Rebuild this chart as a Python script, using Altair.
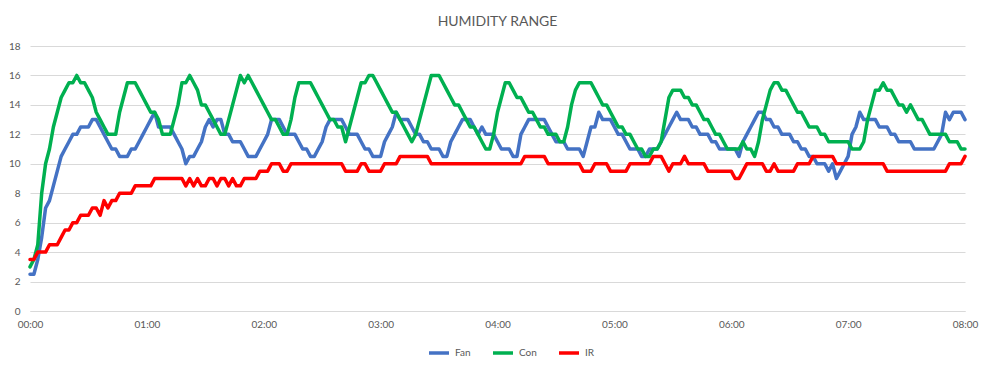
import altair as alt
import pandas as pd

# Readings every 2 minutes from 00:00 to 08:00 (241 per series)
STEP_MIN = 2

FAN = [
    2.5, 2.5, 3.5, 5, 7, 7.5, 8.5, 9.5, 10.5, 11, 11.5, 12, 12, 12.5, 12.5,
    12.5, 13, 13, 12.5, 12, 11.5, 11, 11, 10.5, 10.5, 10.5, 11, 11, 11.5, 12,
    12.5, 13, 13.5, 12.5, 12.5, 12.5, 12.5, 12, 11.5, 11, 10, 10.5, 10.5, 11, 11.5,
    12.5, 13, 12.5, 13, 13, 12, 12, 11.5, 11.5, 11.5, 11, 10.5, 10.5, 10.5, 11,
    11.5, 12, 13, 13, 13, 12.5, 12, 12, 12, 11.5, 11, 11, 10.5, 10.5, 11,
    11.5, 12.5, 13, 13, 13, 13, 12.5, 12, 12, 12, 11.5, 11, 11, 10.5, 10.5,
    10.5, 11.5, 12, 12.5, 13.5, 13, 13, 13, 12.5, 12, 12, 11.5, 11.5, 11, 11,
    11, 10.5, 10.5, 11.5, 12, 12.5, 13, 13, 13, 12.5, 12, 12.5, 12, 12, 12,
    11.5, 11, 11, 11, 10.5, 10.5, 12, 12.5, 13, 13, 13, 13, 13, 12.5, 12,
    11.5, 11.5, 11.5, 11, 11, 11, 11, 10.5, 11.5, 12.5, 12.5, 13.5, 13, 13, 13,
    12.5, 12, 12, 11.5, 11, 11, 11, 10.5, 10.5, 11, 11, 11, 11.5, 12, 12.5,
    13, 13.5, 13, 13, 13, 12.5, 12.5, 12, 12, 12, 11.5, 11.5, 11, 11, 11,
    11, 11, 10.5, 11.5, 12, 12.5, 13, 13.5, 13.5, 13, 13, 12.5, 12.5, 12, 12,
    12, 11.5, 11.5, 11, 11, 10.5, 10.5, 10, 10, 10, 9.5, 10, 9, 9.5, 10,
    10.5, 12, 12.5, 13.5, 13, 13, 13, 13, 12.5, 12.5, 12.5, 12, 12, 11.5, 11.5,
    11.5, 11.5, 11, 11, 11, 11, 11, 11, 11.5, 12, 13.5, 13, 13.5, 13.5, 13.5,
    13,
]

CON = [
    3, 3.5, 4.5, 8, 10, 11, 12.5, 13.5, 14.5, 15, 15.5, 15.5, 16, 15.5, 15.5,
    15, 14.5, 13.5, 13, 12.5, 12, 12, 12, 13.5, 14.5, 15.5, 15.5, 15.5, 15, 14.5,
    14, 13.5, 13.5, 13, 12, 12, 12, 13, 14, 15.5, 15.5, 16, 15.5, 15, 14,
    14, 13.5, 13, 12.5, 12, 12, 13, 14, 15, 16, 15.5, 16, 15.5, 15, 14.5,
    14, 13.5, 13, 13, 12.5, 12, 12, 13, 14.5, 15.5, 15.5, 15.5, 15.5, 15, 14.5,
    14, 13.5, 13, 13, 12.5, 12.5, 11.5, 12.5, 13.5, 14.5, 15.5, 15.5, 16, 16, 15.5,
    15, 14.5, 14, 13.5, 13.5, 13, 12.5, 12, 11.5, 12, 13, 14, 15, 16, 16,
    16, 15.5, 15, 14.5, 14, 14, 13.5, 13, 12.5, 12.5, 12, 11.5, 11, 11, 12,
    13.5, 14.5, 15.5, 15.5, 15, 14.5, 14.5, 14, 13.5, 13.5, 13, 12.5, 12.5, 12, 12,
    12, 11.5, 11.5, 12.5, 14, 15, 15.5, 15.5, 15.5, 15.5, 15, 14.5, 14, 14, 13.5,
    13, 12.5, 12.5, 12, 12, 11.5, 11, 11, 10.5, 10.5, 11, 11, 11.5, 13, 14.5,
    15, 15, 15, 14.5, 14.5, 14, 14, 13.5, 13, 13, 12.5, 12, 12, 11.5, 11,
    11, 11, 11, 11.5, 11, 11, 10.5, 11.5, 13, 14, 15, 15.5, 15.5, 15, 15,
    14.5, 14, 13.5, 13.5, 13, 12.5, 12.5, 12.5, 12, 12, 11.5, 11.5, 11.5, 11.5, 11.5,
    11.5, 11, 11, 11, 11.5, 13, 14, 15, 15, 15.5, 15, 15, 14.5, 14, 14,
    13.5, 14, 13.5, 13, 13, 12.5, 12, 12, 12, 12, 12, 11.5, 11.5, 11.5, 11,
    11,
]

IR = [
    3.5, 3.5, 4, 4, 4, 4.5, 4.5, 4.5, 5, 5.5, 5.5, 6, 6, 6.5, 6.5,
    6.5, 7, 7, 6.5, 7.5, 7, 7.5, 7.5, 8, 8, 8, 8, 8.5, 8.5, 8.5,
    8.5, 8.5, 9, 9, 9, 9, 9, 9, 9, 9, 8.5, 9, 8.5, 9, 8.5,
    8.5, 9, 9, 8.5, 9, 9, 8.5, 9, 8.5, 8.5, 9, 9, 9, 9, 9.5,
    9.5, 9.5, 10, 10, 10, 9.5, 9.5, 10, 10, 10, 10, 10, 10, 10, 10,
    10, 10, 10, 10, 10, 10, 9.5, 9.5, 9.5, 9.5, 10, 10, 9.5, 9.5, 9.5,
    9.5, 10, 10, 10, 10, 10.5, 10.5, 10.5, 10.5, 10.5, 10.5, 10.5, 10.5, 10, 10,
    10, 10, 10, 10, 10, 10, 10, 10, 10, 10, 10, 10, 10, 10, 10,
    10, 10, 10, 10, 10, 10, 10, 10.5, 10.5, 10.5, 10.5, 10.5, 10.5, 10, 10,
    10, 10, 10, 10, 10, 10, 10, 9.5, 9.5, 9.5, 10, 10, 10, 10, 9.5,
    9.5, 9.5, 9.5, 9.5, 10, 10, 10, 10, 10, 10, 10.5, 10.5, 10.5, 10, 9.5,
    10, 10, 10, 10.5, 10, 10, 10, 10, 10, 9.5, 9.5, 9.5, 9.5, 9.5, 9.5,
    9.5, 9, 9, 9.5, 10, 10, 10, 10, 10, 9.5, 9.5, 10, 9.5, 9.5, 9.5,
    9.5, 9.5, 10, 10, 10, 10, 10.5, 10.5, 10.5, 10.5, 10.5, 10.5, 10, 10, 10,
    10, 10, 10, 10, 10, 10, 10, 10, 10, 10, 9.5, 9.5, 9.5, 9.5, 9.5,
    9.5, 9.5, 9.5, 9.5, 9.5, 9.5, 9.5, 9.5, 9.5, 9.5, 9.5, 10, 10, 10, 10,
    10.5,
]

SERIES = ["Fan", "Con", "IR"]
COLORS = ["#4472C4", "#00B050", "#FF0000"]
X_TICKS = [0, 60, 120, 180, 240, 300, 360, 420, 480]
X_LABELS = ["00:00", "01:00", "02:00", "03:00", "04:00", "05:00", "06:00", "07:00", "08:00"]
Y_TICKS = [0, 2, 4, 6, 8, 10, 12, 14, 16, 18]
TITLE = "HUMIDITY RANGE"

FONT = "Lato"
TEXT_COLOR = "#595959"
GRID_COLOR = "#d9d9d9"

rows = []
for name, vals in zip(SERIES, [FAN, CON, IR]):
    for i, v in enumerate(vals):
        rows.append({"minute": i * STEP_MIN, "value": v, "series": name})
df = pd.DataFrame(rows)

label_expr = "[" + ",".join("'" + s + "'" for s in X_LABELS) + "][round(datum.value / 60)]"

x_enc = alt.X(
    "minute:Q",
    scale=alt.Scale(domain=[0, 480], nice=False, zero=False),
    axis=alt.Axis(
        values=X_TICKS, labelExpr=label_expr, title=None, grid=False, ticks=False,
        domain=True, domainColor=GRID_COLOR, domainWidth=1, labelPadding=8,
        labelFlush=False, labelColor=TEXT_COLOR, labelFontSize=10, labelFont=FONT,
    ),
)
y_enc = alt.Y(
    "value:Q",
    scale=alt.Scale(domain=[0, 18], nice=False),
    axis=alt.Axis(
        values=Y_TICKS, title=None, grid=True, gridColor=GRID_COLOR, gridWidth=1,
        ticks=False, domain=False, labelPadding=10, labelColor=TEXT_COLOR,
        labelFontSize=10, labelFont=FONT,
    ),
)
color_enc = alt.Color(
    "series:N",
    scale=alt.Scale(domain=SERIES, range=COLORS),
    legend=alt.Legend(
        title=None, orient="none", legendX=397, legendY=295, direction="horizontal",
        symbolType="stroke", symbolStrokeWidth=3.5, symbolSize=400,
        labelFontSize=10, labelColor=TEXT_COLOR, labelFont=FONT,
        columnPadding=15, labelOffset=4,
    ),
)

base = alt.Chart(df).mark_line(strokeWidth=3.5, strokeJoin="round", strokeCap="round")

layers = [
    base.transform_filter(alt.datum.series == s).encode(x=x_enc, y=y_enc, color=color_enc)
    for s in SERIES
]

chart = alt.layer(*layers).properties(
    width=935,
    height=265,
    title=alt.TitleParams(
        TITLE, fontSize=14, font=FONT, color=TEXT_COLOR, fontWeight="normal",
        anchor="middle", offset=12,
    ),
    padding={"left": 22, "top": 38, "right": 17, "bottom": 50},
    autosize="none",
    background="white",
).configure_view(stroke=None)

chart.save("out.html", embed_options={"renderer": "svg", "actions": False})
